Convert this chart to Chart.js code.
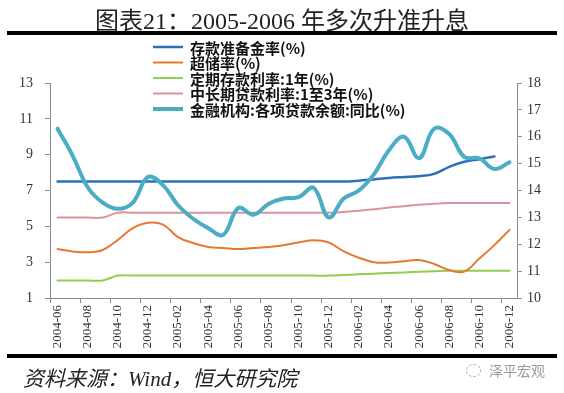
<!DOCTYPE html>
<html>
<head>
<meta charset="utf-8">
<script src="https://cdn.jsdelivr.net/npm/chart.js@4.4.1/dist/chart.umd.min.js"></script>
<style>
  html, body { margin: 0; padding: 0; background: #fff; }
  #wrap { position: relative; width: 564px; height: 393px; overflow: hidden; }
  #chartCanvas { position: absolute; left: 0; top: 0; }
  .title {
    position: absolute; left: 0; top: 1px; width: 564px; text-align: center;
    font: 24px "Liberation Serif", "Noto Sans CJK SC", serif; color: #222;
  }
  .rule { position: absolute; left: 7px; width: 550px; height: 4px; background: #000; }
  .source {
    position: absolute; left: 23px; top: 362px;
    font: italic 21px "Liberation Serif", "Noto Sans CJK SC", serif; color: #222;
  }
  .mark {
    position: absolute; left: 466px; top: 360px; font: 14px "Noto Sans CJK SC"; color: #9a9a9a;
  }
  .mark span {
    display: inline-block; width: 13px; height: 11px; border: 1px dashed #aaa;
    border-radius: 50%; margin-right: 8px; vertical-align: -1px;
  }
</style>
</head>
<body>
<div id="wrap">
  <canvas id="chartCanvas" width="564" height="393"></canvas>
  <div class="title">图表21：2005-2006 年多次升准升息</div>
  <div class="rule" style="top:31px"></div>
  <div class="rule" style="top:354px"></div>
  <div class="source">资料来源：Wind，恒大研究院</div>
  <div class="mark"><span></span>泽平宏观</div>
</div>
<script>
"use strict";

const months = [
  "2004-06", "2004-07", "2004-08", "2004-09", "2004-10", "2004-11", "2004-12",
  "2005-01", "2005-02", "2005-03", "2005-04", "2005-05", "2005-06", "2005-07",
  "2005-08", "2005-09", "2005-10", "2005-11", "2005-12", "2006-01", "2006-02",
  "2006-03", "2006-04", "2006-05", "2006-06", "2006-07", "2006-08", "2006-09",
  "2006-10", "2006-11", "2006-12"
];

// 存款准备金率 (左轴)
const reserveRatio = [
  7.5, 7.5, 7.5, 7.5, 7.5, 7.5, 7.5, 7.5, 7.5, 7.5, 7.5, 7.5, 7.5, 7.5, 7.5, 7.5,
  7.5, 7.5, 7.5, 7.5, 7.55, 7.62, 7.7, 7.75, 7.8, 7.93, 8.32, 8.6, 8.75, 8.9, null
];

// 超储率 (左轴)
const excessReserve = [
  3.73, 3.6, 3.55, 3.68, 4.24, 4.9, 5.2, 5.1, 4.4, 4.07, 3.85, 3.79, 3.73, 3.79,
  3.85, 3.95, 4.1, 4.22, 4.1, 3.6, 3.25, 3.0, 2.98, 3.05, 3.12, 2.9, 2.56, 2.47,
  3.2, 3.95, 4.8
];

// 定期存款利率:1年 (左轴)
const depositRate = [
  1.98, 1.98, 1.98, 1.98, 2.25, 2.25, 2.25, 2.25, 2.25, 2.25, 2.25, 2.25, 2.25,
  2.25, 2.25, 2.25, 2.25, 2.25, 2.25, 2.28, 2.32, 2.36, 2.4, 2.43, 2.46, 2.49,
  2.52, 2.52, 2.52, 2.52, 2.52
];

// 中长期贷款利率:1至3年 (左轴)
const loanRate = [
  5.49, 5.49, 5.49, 5.49, 5.76, 5.76, 5.76, 5.76, 5.76, 5.76, 5.76, 5.76, 5.76,
  5.76, 5.76, 5.76, 5.76, 5.76, 5.76, 5.8, 5.87, 5.95, 6.05, 6.12, 6.2, 6.26,
  6.3, 6.3, 6.3, 6.3, 6.3
];

// 金融机构:各项贷款余额:同比 (右轴)
const loanGrowth = [
  16.3, 15.3, 14.12, 13.55, 13.32, 13.55, 14.5, 14.2, 13.45, 12.95, 12.6, 12.35,
  13.35, 13.1, 13.5, 13.7, 13.75, 14.1, 13.0, 13.7, 14.0, 14.6, 15.5, 16.0, 15.2,
  16.3, 16.1, 15.25, 15.2, 14.8, 15.05
];

const axisColor = "#8c8c8c";
const tickFont = { family: "'Liberation Serif', 'Times New Roman', serif", size: 14 };

// 图内图例
const insideLegend = {
  id: "insideLegend",
  afterDraw(chart) {
    const ctx = chart.ctx;
    ctx.save();
    ctx.font = "bold 15px 'Noto Sans CJK SC'";
    ctx.textBaseline = "middle";
    ctx.fillStyle = "#111";
    chart.data.datasets.forEach((ds, i) => {
      const y = 47 + i * 15.5;
      ctx.strokeStyle = ds.borderColor;
      ctx.lineWidth = ds.borderWidth;
      ctx.beginPath();
      ctx.moveTo(153, y);
      ctx.lineTo(183, y);
      ctx.stroke();
      ctx.fillText(ds.label, 190, y + 1);
    });
    ctx.restore();
  }
};

document.addEventListener("DOMContentLoaded", () => {
  const ctx = document.querySelector("#chartCanvas").getContext("2d");

  new Chart(ctx, {
    type: "line",
    data: {
      labels: months,
      datasets: [
        { label: "存款准备金率(%)", data: reserveRatio, borderColor: "#2e6fba", borderWidth: 2.5, yAxisID: "y", order: 1 },
        { label: "超储率(%)", data: excessReserve, borderColor: "#e8782f", borderWidth: 2, yAxisID: "y", order: 1 },
        { label: "定期存款利率:1年(%)", data: depositRate, borderColor: "#8fcf4f", borderWidth: 2, yAxisID: "y", order: 1 },
        { label: "中长期贷款利率:1至3年(%)", data: loanRate, borderColor: "#d9959a", borderWidth: 2, yAxisID: "y", order: 1 },
        { label: "金融机构:各项贷款余额:同比(%)", data: loanGrowth, borderColor: "#4aacc5", borderWidth: 4, yAxisID: "y1", order: 0 }
      ]
    },
    options: {
      responsive: false,
      animation: false,
      layout: { padding: { top: 83, left: 0, right: 0, bottom: 0 } },
      elements: {
        point: { radius: 0 },
        line: { tension: 0.4, fill: false, borderCapStyle: "round" }
      },
      plugins: {
        legend: { display: false },
        tooltip: { enabled: false }
      },
      scales: {
        x: {
          offset: true,
          grid: {
            offset: true,
            drawOnChartArea: false,
            tickLength: 5,
            color: c => (c.index % 2 === 0 ? axisColor : "rgba(0,0,0,0)"),
            tickColor: c => (c.index % 2 === 0 ? axisColor : "rgba(0,0,0,0)")
          },
          border: { color: axisColor, width: 1 },
          ticks: {
            autoSkip: false,
            minRotation: 90,
            maxRotation: 90,
            padding: 2,
            color: "#333",
            font: { family: tickFont.family, size: 13 },
            callback: (v, i) => (i % 2 === 0 ? months[i] : "")
          },
          afterFit: s => { s.height = 95; }
        },
        y: {
          position: "left",
          min: 1,
          max: 13,
          grid: { drawOnChartArea: false, tickLength: 5, color: axisColor },
          border: { color: axisColor, width: 1 },
          ticks: { stepSize: 2, padding: 12, color: "#333", font: tickFont },
          afterFit: s => { s.width = 50; }
        },
        y1: {
          position: "right",
          min: 10,
          max: 18,
          grid: { drawOnChartArea: false, tickLength: 5, color: axisColor },
          border: { color: axisColor, width: 1 },
          ticks: { stepSize: 1, padding: 5, color: "#333", font: tickFont },
          afterFit: s => { s.width = 47; }
        }
      }
    },
    plugins: [insideLegend]
  });
});
</script>
</body>
</html>
